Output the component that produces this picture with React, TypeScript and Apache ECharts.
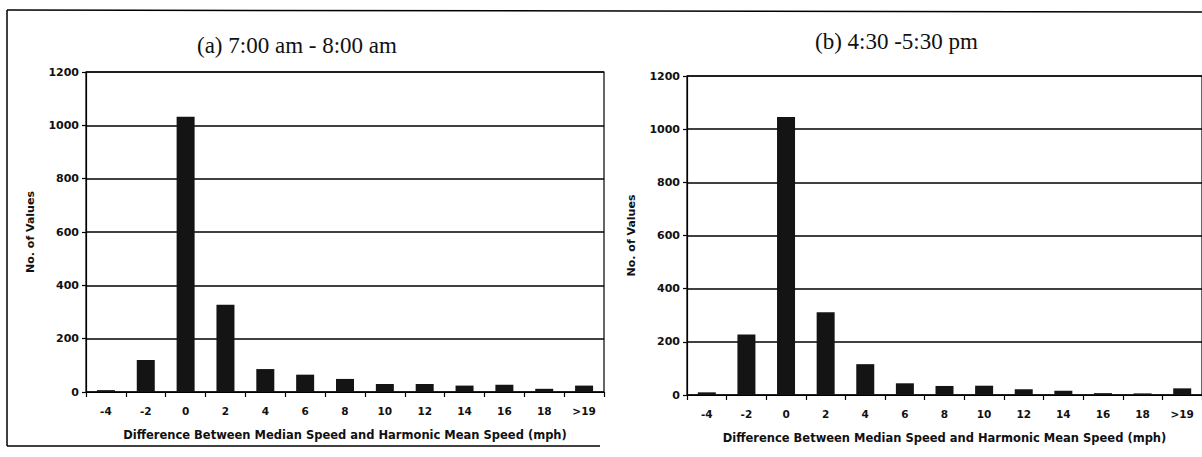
import React, { useEffect, useRef } from "react";
import * as echarts from "echarts";

const categories = ["-4", "-2", "0", "2", "4", "6", "8", "10", "12", "14", "16", "18", ">19"];
const amValues = [7, 120, 1032, 327, 86, 65, 49, 30, 30, 24, 27, 12, 24];
const pmValues = [10, 228, 1046, 311, 116, 44, 34, 35, 22, 16, 7, 6, 25];
const yTicks = { min: 0, max: 1200, interval: 200 };
const titleA = "(a) 7:00 am - 8:00 am";
const titleB = "(b) 4:30 -5:30 pm";
const xName = "Difference Between Median Speed and Harmonic Mean Speed (mph)";
const yName = "No. of Values";

const SANS = "'DejaVu Sans', Arial, sans-serif";
const SERIF = "'Times New Roman', 'Liberation Serif', serif";

function xAxis(gridIndex: number) {
  return {
    type: "category",
    gridIndex,
    data: categories,
    name: xName,
    nameLocation: "middle",
    nameGap: 37,
    nameTextStyle: { fontFamily: SANS, fontWeight: "bold", fontSize: 11.5, color: "#111" },
    axisLine: { lineStyle: { color: "#000", width: 1.2 } },
    axisTick: { show: true, alignWithLabel: false, length: 5, inside: false, lineStyle: { color: "#000", width: 1.2 } },
    axisLabel: { fontFamily: SANS, fontWeight: "bold", fontSize: 10.5, color: "#111", margin: 13 },
    splitLine: { show: false },
  };
}

function yAxis(gridIndex: number) {
  return {
    type: "value",
    gridIndex,
    min: yTicks.min,
    max: yTicks.max,
    interval: yTicks.interval,
    name: yName,
    nameLocation: "middle",
    nameGap: 50,
    nameRotate: 90,
    nameTextStyle: { fontFamily: SANS, fontWeight: "bold", fontSize: 11, color: "#111" },
    axisLine: { show: true, lineStyle: { color: "#000", width: 1.2 } },
    axisTick: { show: true, length: 4, lineStyle: { color: "#000", width: 1.2 } },
    axisLabel: {
      fontFamily: SANS,
      fontWeight: "bold",
      fontSize: 11,
      color: "#111",
      margin: 7,
      formatter: (v: number) => String(v),
    },
    splitLine: { show: true, lineStyle: { color: "#000", width: 1.5 } },
  };
}

const barStyle = { color: "#141414" };

export default function App() {
  const ref = useRef<HTMLDivElement>(null);
  useEffect(() => {
    document.body.style.margin = "0";
    if (!ref.current) return;
    const chart = echarts.init(ref.current, null, { renderer: "svg" });
    chart.setOption({
      animation: false,
      backgroundColor: "#fff",
      title: [
        { text: titleA, left: 192, top: 29, textStyle: { fontFamily: SERIF, fontWeight: "normal", fontSize: 23, color: "#111" } },
        { text: titleB, left: 810, top: 25, textStyle: { fontFamily: SERIF, fontWeight: "normal", fontSize: 23, color: "#111" } },
      ],
      grid: [
        { left: 86, top: 72, width: 518, height: 320, show: true, borderColor: "#000", borderWidth: 1.2, backgroundColor: "transparent" },
        { left: 687, top: 76, width: 520, height: 319, show: true, borderColor: "#000", borderWidth: 1.2, backgroundColor: "transparent" },
      ],
      xAxis: [xAxis(0), xAxis(1)],
      yAxis: [yAxis(0), yAxis(1)],
      series: [
        { type: "bar", xAxisIndex: 0, yAxisIndex: 0, data: amValues, barWidth: 18, itemStyle: barStyle },
        { type: "bar", xAxisIndex: 1, yAxisIndex: 1, data: pmValues, barWidth: 18, itemStyle: barStyle },
      ],
      graphic: [
        { type: "line", shape: { x1: 7, y1: 10, x2: 1202, y2: 12 }, style: { stroke: "#000", lineWidth: 1.5 } },
        { type: "line", shape: { x1: 7, y1: 10, x2: 7, y2: 446 }, style: { stroke: "#000", lineWidth: 1.5 } },
        { type: "line", shape: { x1: 7, y1: 446, x2: 600, y2: 446 }, style: { stroke: "#000", lineWidth: 1.5 } },
      ],
    });
    return () => chart.dispose();
  }, []);
  return <div ref={ref} style={{ width: 1202, height: 457 }} />;
}
